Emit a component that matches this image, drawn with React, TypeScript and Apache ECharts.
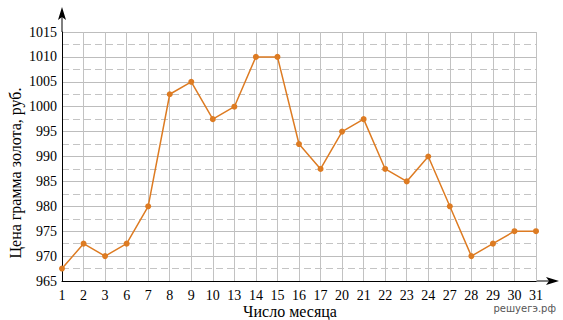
import React, { useEffect, useRef } from "react";
import * as echarts from "echarts";

const days = ["1", "2", "3", "6", "7", "8", "9", "10", "13", "14", "15", "16", "17", "20", "21", "22", "23", "24", "27", "28", "29", "30", "31"];
const prices = [967.5, 972.5, 970, 972.5, 980, 1002.5, 1005, 997.5, 1000, 1010, 1010, 992.5, 987.5, 995, 997.5, 987.5, 985, 990, 980, 970, 972.5, 975, 975];
const yMin = 965;
const yMax = 1015;
const yStep = 5;
const yTitle = "Цена грамма золота, руб.";
const xTitle = "Число месяца";
const watermark = "решуегэ.рф";

const W = 563;
const H = 320;
const L = 62;
const R = 536;
const T = 32;
const B = 281;
const serif = "Liberation Serif";

export default function App() {
  const ref = useRef<HTMLDivElement>(null);
  useEffect(() => {
    if (!ref.current) return;
    const chart = echarts.init(ref.current, null, { renderer: "svg" });
    chart.setOption({
      animation: false,
      backgroundColor: "#fff",
      textStyle: { fontFamily: serif },
      grid: { left: L, right: W - R, top: T, bottom: H - B, containLabel: false },
      xAxis: {
        type: "category",
        data: days,
        boundaryGap: false,
        axisLine: { show: true, lineStyle: { color: "#000", width: 1 } },
        axisTick: { show: false },
        axisLabel: { interval: 0, color: "#000", fontSize: 14, fontFamily: serif, margin: 7 },
        splitLine: { show: true, interval: 0, lineStyle: { color: "#c2c2c2", width: 1 } },
      },
      yAxis: {
        type: "value",
        min: yMin,
        max: yMax,
        interval: yStep,
        axisLine: { show: true, lineStyle: { color: "#000", width: 1 } },
        axisTick: { show: false },
        axisLabel: { color: "#000", fontSize: 14, fontFamily: serif, margin: 5, formatter: (v: number) => String(v) },
        splitLine: { show: true, lineStyle: { color: "#bdbdbd", width: 1 } },
        minorTick: { show: false, splitNumber: 2 },
        minorSplitLine: { show: true, lineStyle: { color: "#c4c4c4", width: 1, type: [7, 4] } },
      },
      series: [
        {
          type: "line",
          data: prices,
          symbol: "circle",
          symbolSize: 6,
          itemStyle: { color: "#dd7b22" },
          lineStyle: { color: "#dd7b22", width: 1.5 },
          z: 5,
        },
      ],
      graphic: [
        { type: "line", shape: { x1: L, y1: T, x2: L, y2: 14 }, style: { stroke: "#000", lineWidth: 1 } },
        { type: "polygon", shape: { points: [[L, 7], [L + 4, 20], [L, 17], [L - 4, 20]] }, style: { fill: "#000" } },
        { type: "line", shape: { x1: R, y1: B, x2: 552, y2: B }, style: { stroke: "#000", lineWidth: 1 } },
        { type: "polygon", shape: { points: [[559, B], [546, B - 4], [549, B], [546, B + 4]] }, style: { fill: "#000" } },
        {
          type: "text",
          x: 15,
          y: 173,
          rotation: Math.PI / 2,
          style: { text: yTitle, fontSize: 16, fontFamily: serif, fill: "#000", align: "center", verticalAlign: "middle" },
        },
        {
          type: "text",
          x: 290,
          y: 311,
          style: { text: xTitle, fontSize: 16, fontFamily: serif, fill: "#000", align: "center", verticalAlign: "middle" },
        },
        {
          type: "text",
          x: 556,
          y: 308,
          style: { text: watermark, fontSize: 10, fontFamily: "DejaVu Sans", fill: "#555", align: "right", verticalAlign: "middle" },
        },
      ],
    });
    return () => chart.dispose();
  }, []);
  return <div ref={ref} style={{ position: "absolute", left: 0, top: 0, width: W, height: H }} />;
}
